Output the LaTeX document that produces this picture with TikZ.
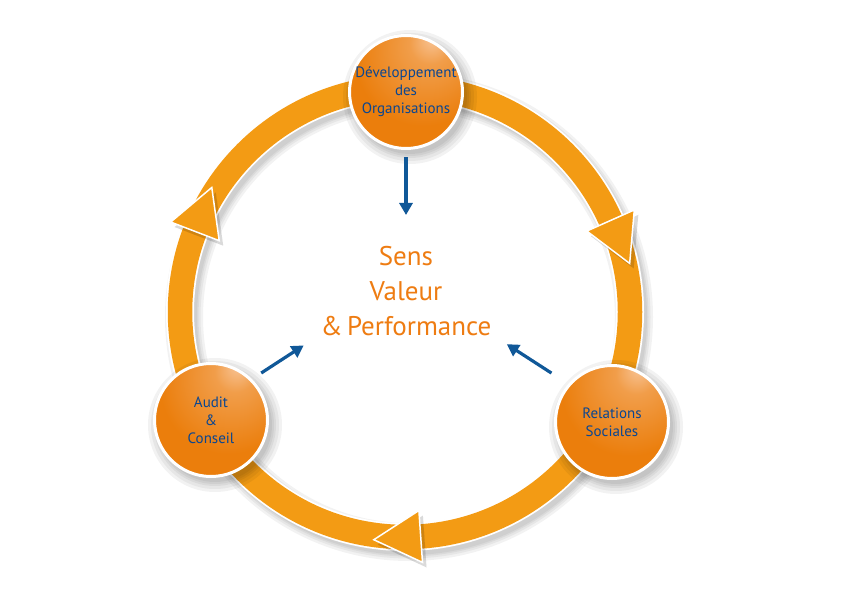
\documentclass[tikz,border=0pt]{standalone}
\usepackage{fontspec}
\setmainfont{PT Sans}
\usepackage{xcolor}
\usetikzlibrary{calc,positioning,arrows.meta}

\definecolor{ringorange}{RGB}{243,155,20}
\definecolor{ballorange}{RGB}{235,126,12}
\definecolor{balldark}{RGB}{224,106,6}
\definecolor{ballhi}{RGB}{248,196,150}
\definecolor{textblue}{RGB}{10,70,145}
\definecolor{arrowblue}{RGB}{16,88,152}
\definecolor{coreorange}{RGB}{238,124,18}

\pgfdeclareradialshading{ballshade}{\pgfpoint{12bp}{24bp}}{%
  color(0bp)=(ballhi); color(9bp)=(ballhi!45!ballorange);
  color(30bp)=(ballorange); color(55bp)=(ballorange); color(80bp)=(balldark)}

\begin{document}
\begin{tikzpicture}[x=1pt,y=1pt,>=Triangle]
	\tikzstyle{ball} = [circle,draw=white,line width=3pt,shading=ballshade,minimum size=113pt,inner sep=0pt,align=center,text=textblue,font=\fontsize{15}{18}\selectfont]
	\tikzstyle{core} = [align=center,text=coreorange,inner sep=0pt,font=\fontsize{27}{35}\selectfont]
	\tikzset{
		flow/.style={draw=arrowblue,line width=3.2pt,-{Triangle[width=13pt,length=12pt]}},
		ringtri/.style={fill=ringorange,draw=white,line width=1.5pt,line join=miter},
		shade/.style={black,opacity=0.05}
	}
	\useasboundingbox (0,0) rectangle (842,595);
	
	\coordinate (ctr) at (405,283);
	\coordinate (hub) at (406,316);
	\coordinate (c1) at (406,503);
	\coordinate (c2) at (612,173);
	\coordinate (c3) at (211,175);
	
	% ring + shadow
	\foreach \w in {38,33,29,26}
		\draw[shade,line width=\w pt] ($(ctr)+(4pt,-5pt)$) circle[radius=225pt];
	\draw[white,line width=28pt] (ctr) circle[radius=225pt];
	\draw[ringorange,line width=24.5pt] (ctr) circle[radius=225pt];
	
	% arrow heads on the ring
	\foreach \a in {159,24,-86}{
		\foreach \w in {7,4,2}
			\fill[shade] ($(ctr)+(4pt,-5pt)+(\a:199pt)$) -- ($(ctr)+(4pt,-5pt)+(\a:251pt)$) -- ($(ctr)+(4pt,-5pt)+(\a:225pt)+(\a-90:47pt)$) -- cycle;
		\filldraw[ringtri] ($(ctr)+(\a:199pt)$) -- ($(ctr)+(\a:251pt)$) -- ($(ctr)+(\a:225pt)+(\a-90:47pt)$) -- cycle;
	}
	
	% shadows of the balls
	\foreach \c in {c1,c2,c3}
		\foreach \r in {67,64,61,59,57}
			\fill[shade] ($(\c)+(4pt,-5pt)$) circle[radius=\r pt];
	
	\node[ball] (T1) at (c1) {Développement\\des\\Organisations};
	\node[ball] (T2) at (c2) {Relations\\Sociales};
	\node[ball] (T3) at (c3) {Audit\\\&\\Conseil};
	
	\node[core] (T0) at (406,304) {Sens\\Valeur\\\&\,Performance};
	
	\draw[flow,shorten <=7.5pt,shorten >=64pt] (T1.south) -- (hub);
	\draw[flow,shorten <=11pt,shorten >=122pt] (T3.45) -- (hub);
	\draw[flow,shorten <=20pt,shorten >=120pt] (T2.139) -- (hub);
\end{tikzpicture}
\end{document}
